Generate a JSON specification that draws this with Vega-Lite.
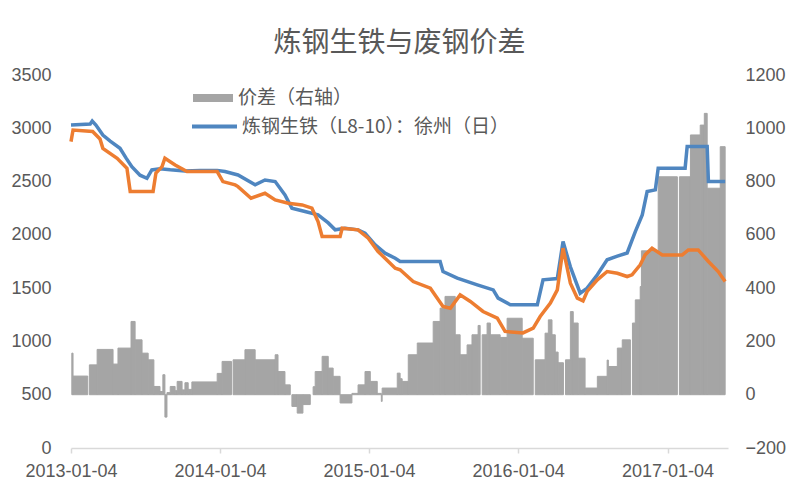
{
  "$schema": "https://vega.github.io/schema/vega-lite/v6.json",
  "width": 657,
  "height": 373,
  "autosize": "none",
  "padding": {"left": 71, "top": 75, "right": 72, "bottom": 52},
  "background": "white",
  "title": {"text": "炼钢生铁与废钢价差", "font": "Noto Sans CJK SC", "fontSize": 28, "fontWeight": "normal", "color": "#595959", "anchor": "middle", "offset": 8},
  "config": {"view": {"stroke": null}, "font": "Liberation Sans", "axis": {"grid": false}, "bar": {"binSpacing": 0}},
  "datasets": {
    "spread": [
      {"start": "2013-01-06", "end": "2013-01-09", "spread": 156},
      {"start": "2013-01-09", "end": "2013-02-14", "spread": 70},
      {"start": "2013-02-18", "end": "2013-03-09", "spread": 112},
      {"start": "2013-03-09", "end": "2013-04-17", "spread": 170},
      {"start": "2013-04-17", "end": "2013-04-29", "spread": 115},
      {"start": "2013-04-29", "end": "2013-05-31", "spread": 175},
      {"start": "2013-05-31", "end": "2013-06-10", "spread": 275},
      {"start": "2013-06-10", "end": "2013-06-27", "spread": 206},
      {"start": "2013-06-27", "end": "2013-07-12", "spread": 156},
      {"start": "2013-07-12", "end": "2013-07-26", "spread": 131},
      {"start": "2013-07-26", "end": "2013-08-10", "spread": 31},
      {"start": "2013-08-10", "end": "2013-08-17", "spread": 12},
      {"start": "2013-08-17", "end": "2013-08-22", "spread": 75},
      {"start": "2013-08-22", "end": "2013-08-27", "spread": -84},
      {"start": "2013-08-27", "end": "2013-09-04", "spread": 8},
      {"start": "2013-09-04", "end": "2013-09-16", "spread": 31},
      {"start": "2013-09-16", "end": "2013-09-21", "spread": 15},
      {"start": "2013-09-21", "end": "2013-10-03", "spread": 50},
      {"start": "2013-10-03", "end": "2013-10-10", "spread": 18},
      {"start": "2013-10-10", "end": "2013-10-18", "spread": 45},
      {"start": "2013-10-18", "end": "2013-10-27", "spread": 20},
      {"start": "2013-10-27", "end": "2013-12-28", "spread": 48},
      {"start": "2013-12-28", "end": "2014-01-09", "spread": 80},
      {"start": "2014-01-09", "end": "2014-02-01", "spread": 125},
      {"start": "2014-02-05", "end": "2014-03-06", "spread": 131},
      {"start": "2014-03-06", "end": "2014-03-31", "spread": 169},
      {"start": "2014-03-31", "end": "2014-05-19", "spread": 131},
      {"start": "2014-05-19", "end": "2014-05-26", "spread": 150},
      {"start": "2014-05-26", "end": "2014-06-12", "spread": 87},
      {"start": "2014-06-12", "end": "2014-06-25", "spread": 37},
      {"start": "2014-06-29", "end": "2014-07-12", "spread": -44},
      {"start": "2014-07-12", "end": "2014-07-26", "spread": -69},
      {"start": "2014-07-26", "end": "2014-08-13", "spread": -37},
      {"start": "2014-08-20", "end": "2014-08-25", "spread": 30},
      {"start": "2014-08-25", "end": "2014-09-11", "spread": 87},
      {"start": "2014-09-11", "end": "2014-09-26", "spread": 144},
      {"start": "2014-09-26", "end": "2014-10-08", "spread": 100},
      {"start": "2014-10-08", "end": "2014-10-25", "spread": 69},
      {"start": "2014-10-25", "end": "2014-11-23", "spread": -31},
      {"start": "2014-11-23", "end": "2014-12-08", "spread": 5},
      {"start": "2014-12-08", "end": "2014-12-25", "spread": 37},
      {"start": "2014-12-25", "end": "2015-01-07", "spread": 87},
      {"start": "2015-01-07", "end": "2015-01-24", "spread": 50},
      {"start": "2015-01-24", "end": "2015-02-03", "spread": 5},
      {"start": "2015-02-03", "end": "2015-02-05", "spread": -25},
      {"start": "2015-02-05", "end": "2015-03-14", "spread": 25},
      {"start": "2015-03-14", "end": "2015-03-21", "spread": 81},
      {"start": "2015-03-21", "end": "2015-03-26", "spread": 60},
      {"start": "2015-03-26", "end": "2015-04-10", "spread": 50},
      {"start": "2015-04-10", "end": "2015-05-02", "spread": 150},
      {"start": "2015-05-02", "end": "2015-06-10", "spread": 194},
      {"start": "2015-06-10", "end": "2015-06-27", "spread": 275},
      {"start": "2015-06-27", "end": "2015-07-09", "spread": 325},
      {"start": "2015-07-09", "end": "2015-08-03", "spread": 369},
      {"start": "2015-08-03", "end": "2015-08-15", "spread": 225},
      {"start": "2015-08-15", "end": "2015-09-01", "spread": 150},
      {"start": "2015-09-01", "end": "2015-09-13", "spread": 187},
      {"start": "2015-09-13", "end": "2015-09-28", "spread": 225},
      {"start": "2015-09-28", "end": "2015-10-03", "spread": 260},
      {"start": "2015-10-08", "end": "2015-10-20", "spread": 225},
      {"start": "2015-10-20", "end": "2015-10-28", "spread": 269},
      {"start": "2015-10-28", "end": "2015-11-21", "spread": 225},
      {"start": "2015-11-21", "end": "2015-12-08", "spread": 215},
      {"start": "2015-12-08", "end": "2016-01-14", "spread": 287},
      {"start": "2016-01-14", "end": "2016-02-10", "spread": 212},
      {"start": "2016-02-15", "end": "2016-03-10", "spread": 131},
      {"start": "2016-03-10", "end": "2016-03-18", "spread": 231},
      {"start": "2016-03-18", "end": "2016-03-27", "spread": 281},
      {"start": "2016-03-27", "end": "2016-04-04", "spread": 225},
      {"start": "2016-04-04", "end": "2016-04-11", "spread": 160},
      {"start": "2016-04-11", "end": "2016-04-24", "spread": 120},
      {"start": "2016-04-29", "end": "2016-05-11", "spread": 131},
      {"start": "2016-05-11", "end": "2016-05-18", "spread": 312},
      {"start": "2016-05-18", "end": "2016-05-30", "spread": 269},
      {"start": "2016-05-30", "end": "2016-06-16", "spread": 137},
      {"start": "2016-06-16", "end": "2016-07-16", "spread": 25},
      {"start": "2016-07-16", "end": "2016-08-09", "spread": 69},
      {"start": "2016-08-09", "end": "2016-08-12", "spread": 130},
      {"start": "2016-08-12", "end": "2016-09-03", "spread": 106},
      {"start": "2016-09-03", "end": "2016-09-15", "spread": 175},
      {"start": "2016-09-15", "end": "2016-10-05", "spread": 206},
      {"start": "2016-10-10", "end": "2016-10-17", "spread": 269},
      {"start": "2016-10-17", "end": "2016-10-29", "spread": 356},
      {"start": "2016-10-29", "end": "2016-11-01", "spread": 406},
      {"start": "2016-11-01", "end": "2016-12-12", "spread": 540},
      {"start": "2016-12-12", "end": "2017-01-28", "spread": 818},
      {"start": "2017-02-02", "end": "2017-03-01", "spread": 818},
      {"start": "2017-03-01", "end": "2017-03-25", "spread": 975},
      {"start": "2017-03-25", "end": "2017-04-04", "spread": 1012},
      {"start": "2017-04-04", "end": "2017-04-11", "spread": 1056},
      {"start": "2017-04-11", "end": "2017-05-13", "spread": 775},
      {"start": "2017-05-13", "end": "2017-05-25", "spread": 931}
    ],
    "pig": [
      {"date": "2013-01-04", "price": 3031},
      {"date": "2013-02-20", "price": 3040},
      {"date": "2013-02-25", "price": 3068},
      {"date": "2013-03-06", "price": 3030},
      {"date": "2013-03-23", "price": 2937},
      {"date": "2013-04-10", "price": 2880},
      {"date": "2013-05-04", "price": 2812},
      {"date": "2013-05-19", "price": 2720},
      {"date": "2013-06-02", "price": 2640},
      {"date": "2013-06-22", "price": 2560},
      {"date": "2013-07-09", "price": 2531},
      {"date": "2013-07-21", "price": 2609},
      {"date": "2013-08-10", "price": 2620},
      {"date": "2013-09-04", "price": 2610},
      {"date": "2013-10-10", "price": 2600},
      {"date": "2013-11-16", "price": 2605},
      {"date": "2013-12-28", "price": 2605},
      {"date": "2014-01-16", "price": 2594},
      {"date": "2014-02-17", "price": 2562},
      {"date": "2014-03-31", "price": 2469},
      {"date": "2014-04-24", "price": 2515},
      {"date": "2014-05-19", "price": 2500},
      {"date": "2014-06-12", "price": 2375},
      {"date": "2014-06-29", "price": 2250},
      {"date": "2014-07-31", "price": 2219},
      {"date": "2014-09-01", "price": 2187},
      {"date": "2014-09-26", "price": 2112},
      {"date": "2014-10-13", "price": 2047},
      {"date": "2014-11-06", "price": 2062},
      {"date": "2014-12-08", "price": 2047},
      {"date": "2014-12-25", "price": 2016},
      {"date": "2015-01-19", "price": 1906},
      {"date": "2015-02-12", "price": 1828},
      {"date": "2015-03-09", "price": 1781},
      {"date": "2015-03-21", "price": 1750},
      {"date": "2015-06-27", "price": 1750},
      {"date": "2015-07-04", "price": 1656},
      {"date": "2015-08-08", "price": 1594},
      {"date": "2015-09-26", "price": 1531},
      {"date": "2015-11-04", "price": 1484},
      {"date": "2015-11-16", "price": 1406},
      {"date": "2015-12-16", "price": 1344},
      {"date": "2016-02-20", "price": 1344},
      {"date": "2016-03-05", "price": 1578},
      {"date": "2016-04-09", "price": 1590},
      {"date": "2016-04-23", "price": 1937},
      {"date": "2016-05-11", "price": 1700},
      {"date": "2016-06-04", "price": 1453},
      {"date": "2016-06-21", "price": 1500},
      {"date": "2016-07-16", "price": 1625},
      {"date": "2016-08-09", "price": 1766},
      {"date": "2016-09-03", "price": 1800},
      {"date": "2016-09-27", "price": 1830},
      {"date": "2016-10-17", "price": 2031},
      {"date": "2016-11-03", "price": 2187},
      {"date": "2016-11-15", "price": 2406},
      {"date": "2016-12-05", "price": 2422},
      {"date": "2016-12-12", "price": 2625},
      {"date": "2017-02-16", "price": 2625},
      {"date": "2017-02-21", "price": 2828},
      {"date": "2017-04-11", "price": 2828},
      {"date": "2017-04-14", "price": 2500},
      {"date": "2017-05-25", "price": 2500}
    ],
    "scrap": [
      {"date": "2013-01-04", "price": 2875},
      {"date": "2013-01-09", "price": 2984},
      {"date": "2013-02-26", "price": 2970},
      {"date": "2013-03-16", "price": 2900},
      {"date": "2013-03-23", "price": 2812},
      {"date": "2013-04-27", "price": 2719},
      {"date": "2013-05-21", "price": 2625},
      {"date": "2013-05-29", "price": 2406},
      {"date": "2013-07-24", "price": 2406},
      {"date": "2013-07-31", "price": 2580},
      {"date": "2013-08-15", "price": 2640},
      {"date": "2013-08-22", "price": 2719},
      {"date": "2013-09-16", "price": 2656},
      {"date": "2013-10-15", "price": 2594},
      {"date": "2013-12-28", "price": 2594},
      {"date": "2014-01-11", "price": 2500},
      {"date": "2014-02-10", "price": 2469},
      {"date": "2014-02-17", "price": 2453},
      {"date": "2014-03-21", "price": 2344},
      {"date": "2014-04-24", "price": 2390},
      {"date": "2014-05-19", "price": 2328},
      {"date": "2014-06-20", "price": 2297},
      {"date": "2014-07-24", "price": 2281},
      {"date": "2014-08-17", "price": 2250},
      {"date": "2014-09-01", "price": 2125},
      {"date": "2014-09-11", "price": 1984},
      {"date": "2014-10-25", "price": 1984},
      {"date": "2014-10-30", "price": 2062},
      {"date": "2014-12-08", "price": 2047},
      {"date": "2015-01-02", "price": 1969},
      {"date": "2015-01-26", "price": 1844},
      {"date": "2015-03-09", "price": 1687},
      {"date": "2015-03-21", "price": 1672},
      {"date": "2015-04-22", "price": 1562},
      {"date": "2015-06-03", "price": 1500},
      {"date": "2015-07-04", "price": 1328},
      {"date": "2015-07-22", "price": 1312},
      {"date": "2015-08-15", "price": 1437},
      {"date": "2015-09-09", "price": 1375},
      {"date": "2015-10-10", "price": 1281},
      {"date": "2015-11-14", "price": 1219},
      {"date": "2015-12-03", "price": 1094},
      {"date": "2016-01-16", "price": 1080},
      {"date": "2016-02-10", "price": 1125},
      {"date": "2016-02-27", "price": 1234},
      {"date": "2016-03-23", "price": 1359},
      {"date": "2016-04-09", "price": 1484},
      {"date": "2016-04-23", "price": 1875},
      {"date": "2016-05-11", "price": 1547},
      {"date": "2016-05-28", "price": 1406},
      {"date": "2016-06-11", "price": 1380},
      {"date": "2016-06-21", "price": 1469},
      {"date": "2016-07-16", "price": 1578},
      {"date": "2016-08-09", "price": 1656},
      {"date": "2016-09-03", "price": 1640},
      {"date": "2016-09-27", "price": 1609},
      {"date": "2016-10-09", "price": 1625},
      {"date": "2016-10-29", "price": 1719},
      {"date": "2016-11-10", "price": 1812},
      {"date": "2016-11-27", "price": 1875},
      {"date": "2016-12-22", "price": 1812},
      {"date": "2017-02-09", "price": 1812},
      {"date": "2017-02-24", "price": 1859},
      {"date": "2017-03-20", "price": 1859},
      {"date": "2017-04-14", "price": 1750},
      {"date": "2017-05-08", "price": 1656},
      {"date": "2017-05-25", "price": 1562}
    ]
  },
  "layer": [
    {
      "data": {"name": "spread"},
      "mark": {"type": "bar", "binSpacing": 0, "stroke": "#A5A5A5", "strokeWidth": 1},
      "encoding": {
        "x": {
          "field": "start", "type": "temporal",
          "scale": {"type": "utc", "domain": [{"year": 2013, "month": 1, "date": 4, "utc": true}, {"year": 2017, "month": 6, "date": 1, "utc": true}]},
          "axis": {
            "title": null,
            "values": [
              {"year": 2013, "month": 1, "date": 4, "utc": true},
              {"year": 2014, "month": 1, "date": 4, "utc": true},
              {"year": 2015, "month": 1, "date": 4, "utc": true},
              {"year": 2016, "month": 1, "date": 4, "utc": true},
              {"year": 2017, "month": 1, "date": 4, "utc": true}
            ],
            "labelExpr": "utcFormat(datum.value, '%Y-%m-%d')",
            "labelFlush": false, "labelOverlap": false,
            "domainColor": "#D9D9D9", "domainWidth": 1.5,
            "tickColor": "#D9D9D9", "tickSize": 5, "tickWidth": 1.5,
            "labelColor": "#595959", "labelFontSize": 18, "labelFont": "Liberation Sans", "labelPadding": 9
          }
        },
        "x2": {"field": "end"},
        "y": {
          "field": "spread", "type": "quantitative",
          "scale": {"domain": [-200, 1200], "nice": false},
          "axis": {"orient": "right", "title": null, "format": "d", "values": [-200, 0, 200, 400, 600, 800, 1000, 1200], "domain": false, "ticks": false, "labelColor": "#595959", "labelFontSize": 18, "labelFont": "Liberation Sans", "labelPadding": 17}
        },
        "y2": {"datum": 0},
        "fill": {
          "datum": "价差（右轴）", "type": "nominal",
          "scale": {"range": ["#A5A5A5"]},
          "legend": {"orient": "none", "legendX": 122, "legendY": 3, "title": null, "padding": 0, "symbolType": "M-1,-0.2H1V0.2H-1Z", "symbolSize": 1600, "symbolStrokeWidth": 0, "labelFont": "Noto Sans CJK SC", "labelFontSize": 19, "labelColor": "#595959", "labelOffset": 5, "labelLimit": 400}
        }
      }
    },
    {
      "layer": [
        {
          "data": {"name": "pig"},
          "mark": {"type": "line", "strokeWidth": 3.5},
          "encoding": {
            "x": {"field": "date", "type": "temporal"},
            "y": {
              "field": "price", "type": "quantitative",
              "scale": {"domain": [0, 3500], "nice": false},
              "axis": {"orient": "left", "title": null, "format": "d", "values": [0, 500, 1000, 1500, 2000, 2500, 3000, 3500], "domain": false, "ticks": false, "labelColor": "#595959", "labelFontSize": 18, "labelFont": "Liberation Sans", "labelPadding": 20}
            },
            "stroke": {
              "datum": "炼钢生铁（L8-10）：徐州（日）", "type": "nominal",
              "scale": {"range": ["#4F86C0"]},
              "legend": {"orient": "none", "legendX": 119, "legendY": 27, "title": null, "padding": 0, "symbolType": "stroke", "symbolSize": 2025, "symbolStrokeWidth": 4, "labelFont": "Noto Sans CJK SC", "labelFontSize": 19, "labelColor": "#595959", "labelOffset": 3, "labelLimit": 400}
            }
          }
        },
        {
          "data": {"name": "scrap"},
          "mark": {"type": "line", "strokeWidth": 3.5, "color": "#ED7D31"},
          "encoding": {
            "x": {"field": "date", "type": "temporal"},
            "y": {"field": "price", "type": "quantitative"}
          }
        }
      ]
    }
  ],
  "resolve": {"scale": {"y": "independent"}}
}
